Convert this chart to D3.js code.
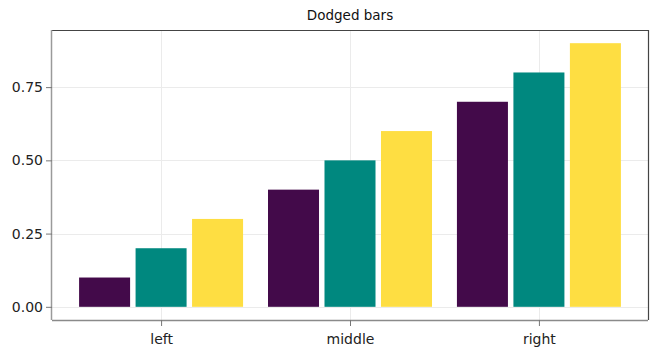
<!DOCTYPE html>
<html>
<head>
<meta charset="utf-8">
<script src="https://cdn.jsdelivr.net/npm/d3@7"></script>
<style>
  html, body { margin: 0; padding: 0; background: #fff; }
  svg { display: block; font-family: "DejaVu Sans", sans-serif; }
</style>
</head>
<body>
<svg id="chart" width="667" height="359"></svg>
<script>
const title = "Dodged bars";
const categories = ["left", "middle", "right"];
const seriesA = [0.1, 0.4, 0.7];
const seriesB = [0.2, 0.5, 0.8];
const seriesC = [0.3, 0.6, 0.9];
const yTicks = [0, 0.25, 0.5, 0.75];
const seriesColors = ["#430a4a", "#00887f", "#fede42"];

const W = 667, H = 359;
const m = { left: 52, right: 19, top: 30, bottom: 39 };
const pw = W - m.left - m.right, ph = H - m.top - m.bottom;

const series = [seriesA, seriesB, seriesC];
const pitch = 0.299, barW = 0.27;
const nS = series.length;
const offsets = series.map((_, i) => (i - (nS - 1) / 2) * pitch);

const xMinData = 1 + offsets[0] - barW / 2;
const xMaxData = categories.length + offsets[nS - 1] + barW / 2;
const xPad = (xMaxData - xMinData) * 0.05;
const yMax = d3.max(series.flat());
const yPad = yMax * 0.05;

const x = d3.scaleLinear().domain([xMinData - xPad, xMaxData + xPad]).range([m.left, m.left + pw]);
const y = d3.scaleLinear().domain([-yPad, yMax + yPad]).range([m.top + ph, m.top]);

const svg = d3.select("#chart");

// grid
const g = svg.append("g");
g.selectAll("line.gy").data(yTicks).join("line")
  .attr("x1", m.left).attr("x2", m.left + pw)
  .attr("y1", d => Math.round(y(d)) + 0.5).attr("y2", d => Math.round(y(d)) + 0.5)
  .attr("stroke", "#ebebeb").attr("stroke-width", 1);
g.selectAll("line.gx").data(categories).join("line")
  .attr("y1", m.top).attr("y2", m.top + ph)
  .attr("x1", (d, i) => Math.round(x(i + 1)) + 0.5).attr("x2", (d, i) => Math.round(x(i + 1)) + 0.5)
  .attr("stroke", "#ebebeb").attr("stroke-width", 1);

// bars
series.forEach((vals, si) => {
  svg.append("g").selectAll("rect").data(vals).join("rect")
    .attr("x", (d, i) => x(i + 1 + offsets[si] - barW / 2))
    .attr("width", (d, i) => x(i + 1 + offsets[si] + barW / 2) - x(i + 1 + offsets[si] - barW / 2))
    .attr("y", d => y(d))
    .attr("height", d => y(0) - y(d))
    .attr("fill", seriesColors[si]);
});

// frame: top & right dark, left & bottom gray
svg.append("line").attr("x1", m.left).attr("x2", m.left + pw).attr("y1", m.top + 0.5).attr("y2", m.top + 0.5)
  .attr("stroke", "#444").attr("stroke-width", 1.2);
svg.append("line").attr("x1", m.left + pw + 0.5).attr("x2", m.left + pw + 0.5).attr("y1", m.top).attr("y2", m.top + ph)
  .attr("stroke", "#444").attr("stroke-width", 1.2);

// axes
const xAxis = d3.axisBottom(x).tickValues(categories.map((_, i) => i + 1))
  .tickFormat((d) => categories[d - 1]).tickSize(6).tickSizeOuter(0).tickPadding(8);
const yAxis = d3.axisLeft(y).tickValues(yTicks).tickFormat(d3.format(".2f"))
  .tickSize(6).tickSizeOuter(0).tickPadding(3);

const gx = svg.append("g").attr("transform", `translate(0,${m.top + ph})`).call(xAxis);
gx.select(".domain").attr("d", `M${m.left},0.5H${m.left + pw}`).attr("stroke", "#8a8a8a").attr("stroke-width", 1.5);
gx.selectAll(".tick line").attr("stroke", "#777");
gx.selectAll("text").attr("font-size", 14).attr("fill", "#222").attr("font-family", "DejaVu Sans");

const gy = svg.append("g").attr("transform", `translate(${m.left},0)`).call(yAxis);
gy.select(".domain").attr("d", `M-0.5,${m.top}V${m.top + ph}`).attr("stroke", "#9a9a9a").attr("stroke-width", 1.5);
gy.selectAll(".tick line").attr("stroke", "#777");
gy.selectAll("text").attr("font-size", 14).attr("fill", "#222").attr("font-family", "DejaVu Sans");

svg.append("text").attr("x", x((categories.length + 1) / 2)).attr("y", 20)
  .attr("text-anchor", "middle").attr("font-size", 13.5).attr("fill", "#111")
  .text(title);
</script>
</body>
</html>
